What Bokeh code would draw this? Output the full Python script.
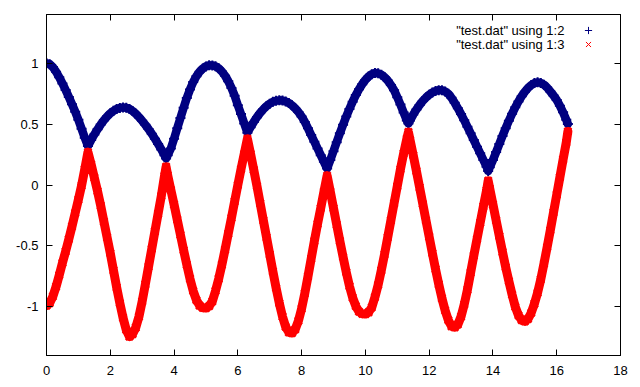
from bokeh.plotting import figure
from bokeh.models import (ColumnDataSource, FixedTicker, LinearAxis, Legend,
                          LegendItem, Label, Range1d)
from bokeh.embed import file_html
from bokeh.resources import INLINE

# ---- data ----
x = [0.0, 0.1, 0.2, 0.3, 0.4, 0.5, 0.6, 0.7, 0.8, 0.9,
     1.0, 1.1, 1.2, 1.3, 1.4, 1.5, 1.6, 1.7, 1.8, 1.9,
     2.0, 2.1, 2.2, 2.3, 2.4, 2.5, 2.6, 2.7, 2.8, 2.9,
     3.0, 3.1, 3.2, 3.3, 3.4, 3.5, 3.6, 3.7, 3.75, 3.8, 3.9,
     4.0, 4.1, 4.2, 4.3, 4.4, 4.5, 4.6, 4.7, 4.8, 4.9,
     5.0, 5.1, 5.2, 5.3, 5.4, 5.5, 5.6, 5.7, 5.8, 5.9,
     6.0, 6.1, 6.2, 6.3, 6.4, 6.5, 6.6, 6.7, 6.8, 6.9,
     7.0, 7.1, 7.2, 7.3, 7.4, 7.5, 7.6, 7.7, 7.8, 7.9,
     8.0, 8.1, 8.2, 8.3, 8.4, 8.5, 8.6, 8.7, 8.8, 8.9,
     9.0, 9.1, 9.2, 9.3, 9.4, 9.5, 9.6, 9.7, 9.8, 9.9,
     10.0, 10.1, 10.2, 10.3, 10.4, 10.5, 10.6, 10.7, 10.8, 10.9,
     11.0, 11.1, 11.2, 11.3, 11.35, 11.4, 11.5, 11.6, 11.7, 11.8, 11.9,
     12.0, 12.1, 12.2, 12.3, 12.4, 12.5, 12.6, 12.7, 12.8, 12.9,
     13.0, 13.1, 13.2, 13.3, 13.4, 13.5, 13.6, 13.7, 13.8, 13.85, 13.9,
     14.0, 14.1, 14.2, 14.3, 14.4, 14.5, 14.6, 14.7, 14.8, 14.9,
     15.0, 15.1, 15.2, 15.3, 15.4, 15.5, 15.6, 15.7, 15.8, 15.9,
     16.0, 16.1, 16.2, 16.3, 16.35]

col2 = [1.000, 0.992, 0.968, 0.930, 0.884, 0.834, 0.780, 0.722, 0.663, 0.602,
        0.535, 0.462, 0.388, 0.320, 0.370, 0.415, 0.457, 0.496, 0.532, 0.563,
        0.589, 0.609, 0.624, 0.633, 0.637, 0.634, 0.625, 0.608, 0.585, 0.557,
        0.527, 0.494, 0.459, 0.421, 0.380, 0.337, 0.292, 0.245, 0.218, 0.245, 0.300,
        0.380, 0.465, 0.550, 0.635, 0.715, 0.785, 0.845, 0.893, 0.930, 0.957,
        0.974, 0.983, 0.982, 0.975, 0.958, 0.932, 0.897, 0.852, 0.797, 0.733,
        0.655, 0.582, 0.506, 0.430, 0.475, 0.518, 0.557, 0.592, 0.622, 0.648,
        0.668, 0.683, 0.692, 0.695, 0.693, 0.686, 0.673, 0.654, 0.629, 0.599,
        0.563, 0.518, 0.465, 0.410, 0.355, 0.300, 0.245, 0.190, 0.135, 0.205,
        0.278, 0.352, 0.425, 0.495, 0.562, 0.625, 0.684, 0.738, 0.786, 0.828,
        0.863, 0.891, 0.910, 0.919, 0.917, 0.906, 0.886, 0.858, 0.822, 0.778,
        0.720, 0.660, 0.595, 0.530, 0.505, 0.530, 0.578, 0.620, 0.657, 0.690, 0.718,
        0.741, 0.759, 0.772, 0.779, 0.778, 0.768, 0.750, 0.716, 0.675, 0.630,
        0.582, 0.531, 0.478, 0.424, 0.369, 0.314, 0.260, 0.205, 0.150, 0.115, 0.145,
        0.205, 0.270, 0.337, 0.403, 0.467, 0.528, 0.585, 0.638, 0.686, 0.729,
        0.766, 0.797, 0.821, 0.837, 0.843, 0.838, 0.824, 0.800, 0.768, 0.735,
        0.698, 0.650, 0.597, 0.535, 0.500]

col3 = [-0.990, -0.970, -0.915, -0.835, -0.740, -0.640, -0.545, -0.445, -0.340, -0.230,
        -0.120, -0.005, 0.130, 0.270, 0.170, 0.060, -0.050, -0.170, -0.300, -0.430,
        -0.560, -0.700, -0.840, -0.970, -1.090, -1.190, -1.245, -1.225, -1.170, -1.080,
        -0.955, -0.815, -0.670, -0.525, -0.380, -0.235, -0.090, 0.075, 0.150, 0.080, -0.040,
        -0.160, -0.285, -0.410, -0.535, -0.655, -0.770, -0.870, -0.945, -0.990, -1.008,
        -1.010, -0.995, -0.955, -0.870, -0.770, -0.655, -0.530, -0.400, -0.270, -0.135,
        0.000, 0.130, 0.255, 0.380, 0.255, 0.125, -0.010, -0.150, -0.290, -0.430,
        -0.570, -0.710, -0.845, -0.970, -1.080, -1.165, -1.210, -1.215, -1.185, -1.115,
        -1.015, -0.890, -0.750, -0.605, -0.460, -0.320, -0.190, -0.055, 0.077, -0.055,
        -0.190, -0.325, -0.460, -0.590, -0.715, -0.830, -0.925, -0.995, -1.040, -1.058,
        -1.060, -1.045, -1.005, -0.920, -0.820, -0.700, -0.570, -0.430, -0.290, -0.150,
        -0.010, 0.130, 0.260, 0.380, 0.435, 0.370, 0.245, 0.115, -0.020, -0.155, -0.290,
        -0.425, -0.560, -0.690, -0.815, -0.930, -1.030, -1.110, -1.160, -1.168, -1.145,
        -1.080, -0.980, -0.860, -0.720, -0.580, -0.445, -0.310, -0.175, -0.045, 0.035, -0.030,
        -0.160, -0.290, -0.420, -0.550, -0.675, -0.790, -0.900, -1.000, -1.070, -1.110,
        -1.120, -1.100, -1.050, -0.975, -0.885, -0.775, -0.645, -0.510, -0.370, -0.225,
        -0.080, 0.065, 0.210, 0.350, 0.440]

x_ticks = [0, 2, 4, 6, 8, 10, 12, 14, 16, 18]
y_ticks = [-1, -0.5, 0, 0.5, 1]
y_tick_labels = ["-1", "-0.5", "0", "0.5", "1"]
series_labels = ['"test.dat" using 1:2', '"test.dat" using 1:3']

BLUE = "#000080"
RED = "#ff0000"
FONT = "Liberation Sans"
FSIZE = "13px"

src = ColumnDataSource(dict(x=x, b=col2, r=col3))

p = figure(width=632, height=380, output_backend="svg", toolbar_location=None,
           x_range=Range1d(0, 18), y_range=Range1d(-1.4, 1.4),
           min_border_left=46, min_border_right=12,
           min_border_top=14, min_border_bottom=25)
p.grid.visible = False
p.outline_line_color = "black"
p.outline_line_alpha = 1
p.background_fill_color = "white"
p.border_fill_color = "white"

def style_axis(ax, show_labels):
    ax.major_tick_in = 6
    ax.major_tick_out = 0
    ax.minor_tick_line_color = None
    ax.axis_line_color = "black"
    ax.major_tick_line_color = "black"
    ax.major_label_text_font = FONT
    ax.major_label_text_color = "black"
    if show_labels:
        ax.major_label_text_font_size = FSIZE
    else:
        ax.major_label_text_font_size = "0px"
        ax.major_label_standoff = 0

xa = p.xaxis[0]
xa.ticker = FixedTicker(ticks=x_ticks)
style_axis(xa, True)
xa.major_label_standoff = 10

ya = p.yaxis[0]
ya.ticker = FixedTicker(ticks=y_ticks)
ya.major_label_overrides = {t: s for t, s in zip(y_ticks, y_tick_labels)}
style_axis(ya, True)
ya.major_label_standoff = 8

top = LinearAxis(ticker=FixedTicker(ticks=x_ticks),
                 major_label_overrides={t: "" for t in x_ticks})
style_axis(top, False)
p.add_layout(top, "above")
right = LinearAxis(ticker=FixedTicker(ticks=y_ticks),
                   major_label_overrides={t: "" for t in y_ticks})
style_axis(right, False)
p.add_layout(right, "right")

# thin key markers (hidden under the thick traces, used for the legend samples)
key_b = p.scatter("x", "b", source=src, marker="cross", size=7,
                  line_color=BLUE, line_width=1)
key_r = p.scatter("x", "r", source=src, marker="x", size=7,
                  line_color=RED, line_width=1)

# series 1 (blue '+')
p.line("x", "b", source=src, line_color=BLUE, line_width=8.5,
       line_join="round", line_cap="round")
p.scatter("x", "b", source=src, marker="cross", size=10,
          line_color=BLUE, line_width=2)
# series 2 (red 'x')
p.line("x", "r", source=src, line_color=RED, line_width=9,
       line_join="round", line_cap="round")
p.scatter("x", "r", source=src, marker="x", size=10,
          line_color=RED, line_width=2.5)

# legend samples (gnuplot style: text right-aligned, sample to its right)
for rnd, loc in ((key_b, (533, 316)), (key_r, (533, 302))):
    lg = Legend(items=[LegendItem(label=" ", renderers=[rnd])], location=loc,
                glyph_width=18, glyph_height=18, label_width=0, label_height=14,
                label_standoff=0, padding=0, margin=0, spacing=0,
                border_line_alpha=0, background_fill_alpha=0,
                label_text_font_size="1px")
    p.add_layout(lg)

for lab, ypos in zip(series_labels, (1.268, 1.153)):
    p.add_layout(Label(x=16.24, y=ypos, text=lab, text_align="right",
                       text_baseline="middle", text_font=FONT,
                       text_font_size=FSIZE, text_color="black"))

open("out.html", "w").write(file_html(p, INLINE))
